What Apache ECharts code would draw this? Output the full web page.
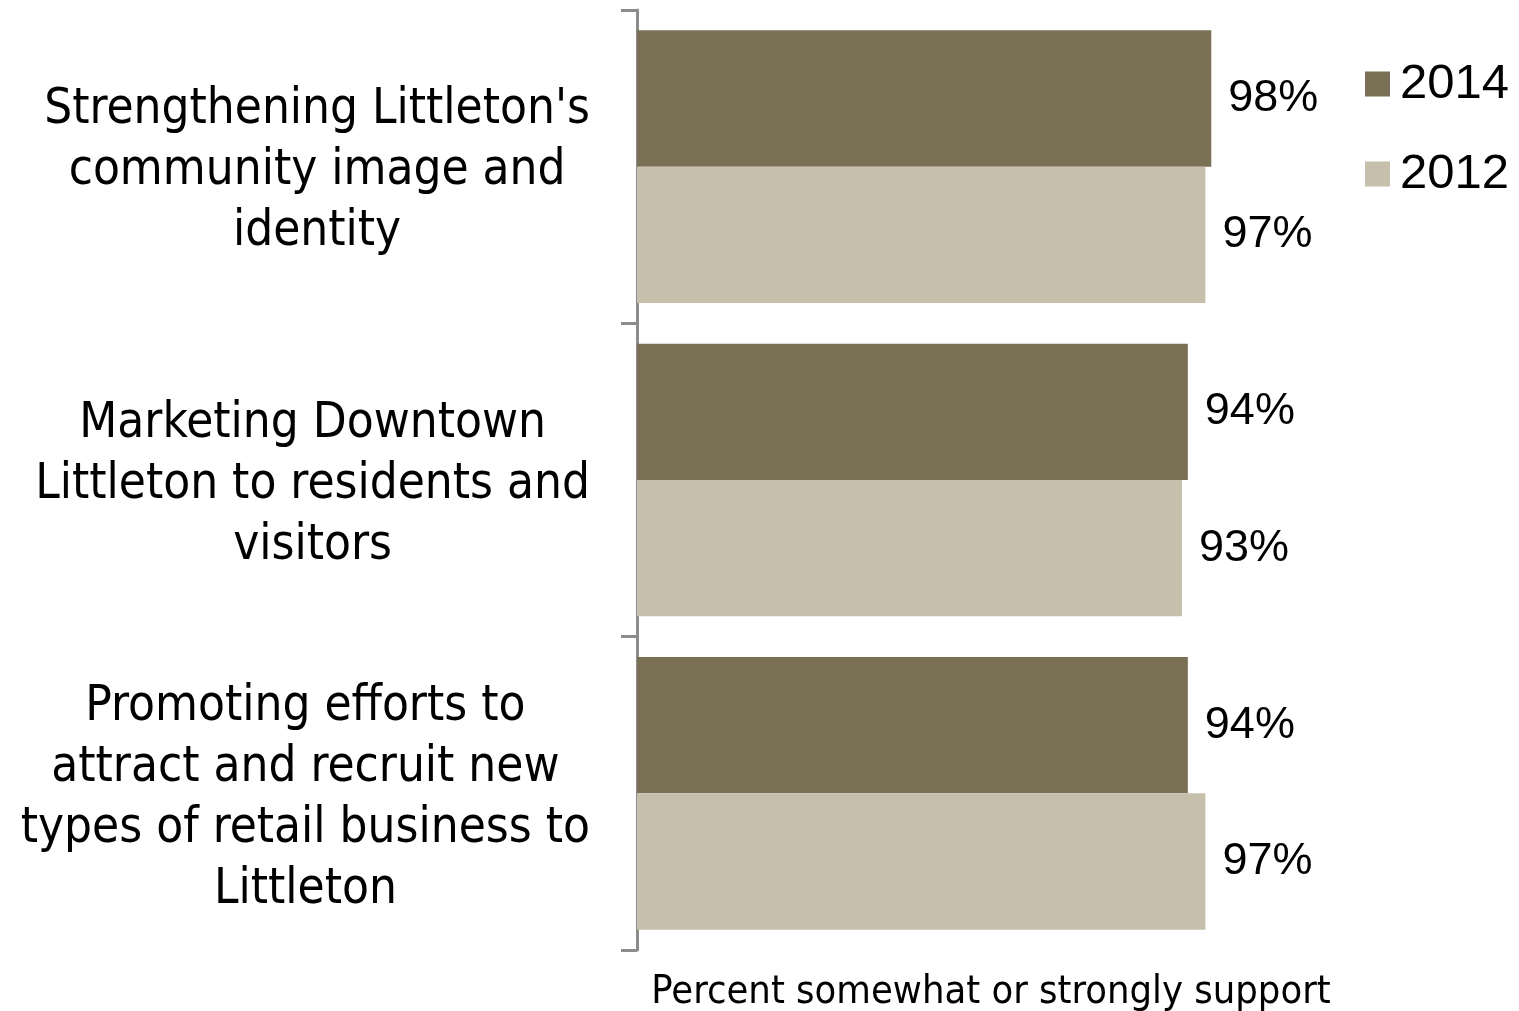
<!DOCTYPE html>
<html>
<head>
<meta charset="utf-8">
<script src="https://cdn.jsdelivr.net/npm/echarts@6/dist/echarts.min.js"></script>
<style>
  html, body { margin: 0; padding: 0; background: #ffffff; }
  #chart { width: 1519px; height: 1011px; }
</style>
</head>
<body>
<div id="chart"></div>
<script>
// Survey items (one per band, top to bottom)
const categories = [
  "Strengthening Littleton's\ncommunity image and\nidentity",
  "Marketing Downtown\nLittleton to residents and\nvisitors",
  "Promoting efforts to\nattract and recruit new\ntypes of retail business to\nLittleton"
];
const seriesNames = ["2014", "2012"];
const values2014 = [98, 94, 94];
const values2012 = [97, 93, 97];
const axisTitle = "Percent somewhat or strongly support";

const labelFont = "'DejaVu Sans Condensed', 'Liberation Sans Narrow', sans-serif";
const numberFont = "'Liberation Sans', Arial, sans-serif";

const chart = echarts.init(document.getElementById('chart'), null, { renderer: 'canvas' });

chart.setOption({
  backgroundColor: '#ffffff',
  animation: false,
  grid: { left: 637, right: 296, top: 10, bottom: 61, containLabel: false, outerBoundsMode: 'none' },
  legend: {
    orient: 'vertical',
    left: 1365,
    top: 59,
    padding: 0,
    itemWidth: 25,
    itemHeight: 25,
    itemGap: 40,
    icon: 'rect',
    textStyle: { fontFamily: numberFont, fontSize: 49, color: '#000', lineHeight: 50, padding: [0, 0, 0, 5] },
    data: seriesNames
  },
  xAxis: {
    type: 'value',
    min: 0,
    max: 100,
    show: true,
    axisLine: { show: false },
    axisTick: { show: false },
    axisLabel: { show: false },
    splitLine: { show: false },
    name: axisTitle,
    nameLocation: 'middle',
    nameGap: 23,
    nameTextStyle: { fontFamily: labelFont, fontSize: 39.5, color: '#000', padding: [0, 0, 0, 122] }
  },
  yAxis: {
    type: 'category',
    inverse: true,
    data: categories,
    axisLine: { show: true, lineStyle: { color: '#8c8c8c', width: 3 } },
    axisTick: { show: true, length: 16, lineStyle: { color: '#8c8c8c', width: 3 } },
    axisLabel: {
      margin: 47,
      align: 'right',
      color: '#000',
      padding: [10, 0, 0, 0],
      formatter: function (v) {
        return v.split('\n').map(function (l) { return '{c|' + l + '}'; }).join('\n');
      },
      rich: {
        c: { align: 'center', fontFamily: labelFont, fontSize: 49, lineHeight: 61, color: '#000' }
      }
    }
  },
  series: [
    {
      name: seriesNames[0],
      type: 'bar',
      data: values2014,
      barGap: '0%',
      barCategoryGap: '13%',
      itemStyle: { color: '#7a7055' },
      label: {
        show: true, position: 'right', distance: 17,
        formatter: '{c}%', fontFamily: numberFont, fontSize: 45, color: '#000'
      }
    },
    {
      name: seriesNames[1],
      type: 'bar',
      data: values2012,
      barGap: '0%',
      barCategoryGap: '13%',
      itemStyle: { color: '#c5bfac' },
      label: {
        show: true, position: 'right', distance: 17,
        formatter: '{c}%', fontFamily: numberFont, fontSize: 45, color: '#000'
      }
    }
  ]
});
</script>
</body>
</html>
